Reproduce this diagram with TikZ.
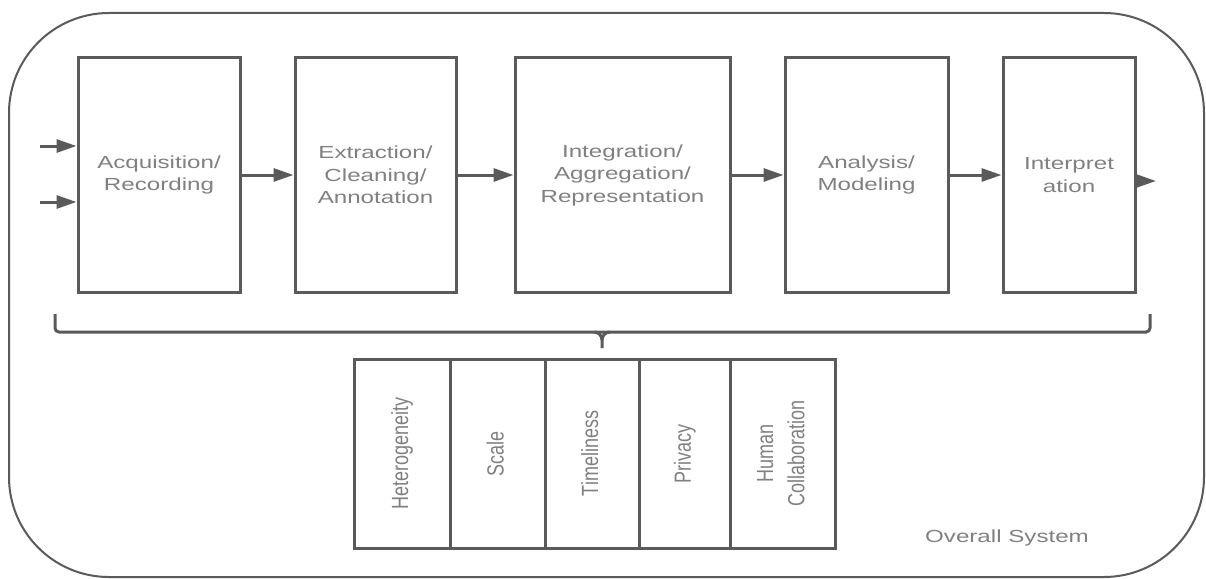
\documentclass[tikz,border=0pt]{standalone}
\usepackage{fontspec}
\usetikzlibrary{arrows.meta}
\newfontfamily\lblfont{Liberation Sans}[FakeStretch=1.38]
\newfontfamily\vlblfont{Liberation Sans}
\definecolor{linegray}{HTML}{5A5A5A}
\definecolor{textgray}{HTML}{808080}
\tikzset{
  stage/.style={draw=linegray, line width=3pt, inner sep=0pt, minimum height=235pt,
    text=textgray, align=center, font=\lblfont\fontsize{17.5}{22.5}\selectfont},
  issue/.style={draw=linegray, line width=3pt, inner sep=0pt, minimum height=189pt,
    text=textgray},
  flow/.style={draw=linegray, line width=3pt, -{Triangle[length=20pt,width=13pt]}},
  outerbox/.style={draw=linegray, line width=2pt, rounded corners=100pt},
}
\newcommand{\vtext}[1]{\scalebox{1}[1.3]{\vlblfont\fontsize{18}{24}\selectfont\begin{tabular}{@{}c@{}}#1\end{tabular}}}
\begin{document}
\begin{tikzpicture}[x=1pt,y=-1pt]
\useasboundingbox (0,0) rectangle (1206,578);
\draw[outerbox] (9,13) rectangle (1204,577);
% stages
\node[stage, minimum width=162pt] (b1) at (159,175) {Acquisition/\\Recording};
\node[stage, minimum width=161pt] (b2) at (375.5,175) {Extraction/\\Cleaning/\\Annotation};
\node[stage, minimum width=215pt] (b3) at (622.5,175) {Integration/\\Aggregation/\\Representation};
\node[stage, minimum width=163pt] (b4) at (866.5,175) {Analysis/\\Modeling};
\node[stage, minimum width=132pt] (b5) at (1069,175) {Interpret\\ation};
% inputs and output
\coordinate (in1) at (40,146);
\coordinate (in2) at (40,202);
\coordinate (out) at (1156,181);
\draw[flow] (in1) -- (in1 -| b1.west);
\draw[flow] (in2) -- (in2 -| b1.west);
\draw[flow] (b1) -- (b2);
\draw[flow] (b2) -- (b3);
\draw[flow] (b3) -- (b4);
\draw[flow] (b4) -- (b5);
\draw[flow] (out -| b5.east) -- (out);
% brace
\draw[linegray, line width=3pt, rounded corners=4pt] (55,314) -- (55,332) -- (1150,332) -- (1150,314);
\draw[linegray, line width=3pt] (594,332) to[out=0,in=90] (602,340) -- (602,348);
\draw[linegray, line width=3pt] (610,332) to[out=180,in=90] (602,340);
% issues
\node[issue, minimum width=96pt] (h) at (402,453.5) {};
\node[issue, minimum width=95pt] (s) at (497.5,453.5) {};
\node[issue, minimum width=94pt] (t) at (592,453.5) {};
\node[issue, minimum width=91pt] (p) at (684.5,453.5) {};
\node[issue, minimum width=105pt] (hc) at (782.5,453.5) {};
\node[text=textgray, rotate=90] (ht) at (h) {\vtext{Heterogeneity}};
\node[text=textgray, rotate=90] (st) at (s) {\vtext{Scale}};
\node[text=textgray, rotate=90] (tt) at (t) {\vtext{Timeliness}};
\node[text=textgray, rotate=90] (pt) at (p) {\vtext{Privacy}};
\node[text=textgray, rotate=90] (hct) at (hc) {\vtext{Human\\Collaboration}};
\node[text=textgray, font=\lblfont\fontsize{17.5}{22.5}\selectfont] (sys) at (1007,538) {Overall System};
\end{tikzpicture}
\end{document}
